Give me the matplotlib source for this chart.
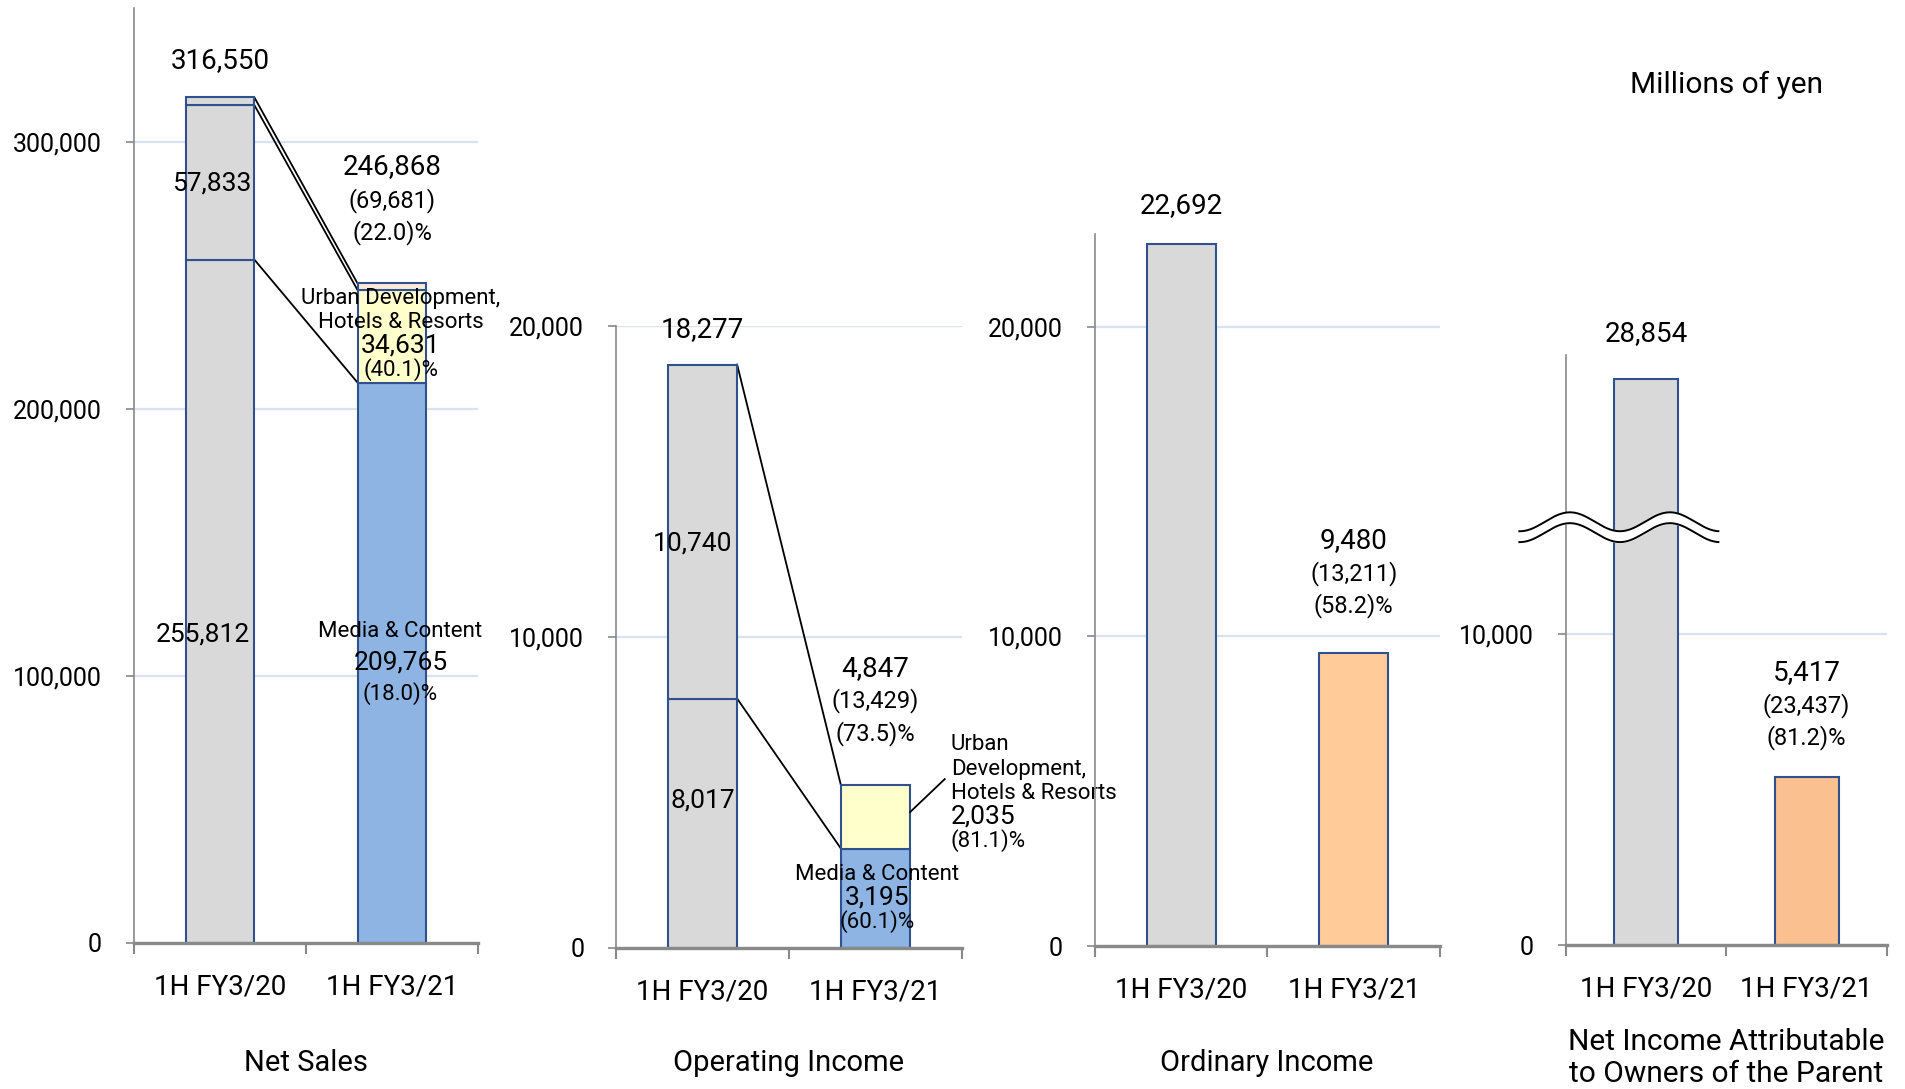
import numpy as np
import matplotlib.pyplot as plt
from matplotlib.ticker import FuncFormatter

plt.rcParams['font.family'] = ['Roboto', 'DejaVu Sans']

# Millions of yen
periods = ["1H FY3/20", "1H FY3/21"]

sales_media = [255812, 209765]
sales_urban = [57833, 34631]
sales_other = [2905, 2472]
sales_total = [316550, 246868]

op_media = [8017, 3195]
op_urban = [10740, 2035]
op_total = [18277, 4847]

ord_total = [22692, 9480]
net_total = [28854, 5417]

# colours
GRAY = '#D9D9D9'
BLUE = '#8EB4E3'
YELLOW = '#FFFFCC'
PEACH = '#FDE9D9'
ORANGE1 = '#FFCC99'
ORANGE2 = '#FAC090'
EDGE = '#2F528F'
AXC = '#898989'
GRID = '#D9E2F0'

W = 0.4
x = np.arange(len(periods))

fig = plt.figure(figsize=(19.05, 10.89), dpi=100)


def style_axis(ax, ymax, yticks):
    ax.patch.set_visible(False)
    ax.set_xlim(-0.5, 1.5)
    ax.set_ylim(0, ymax)
    ax.set_yticks(yticks)
    ax.yaxis.set_major_formatter(FuncFormatter(lambda v, p: f"{v:,.0f}"))
    ax.set_xticks(x)
    ax.set_xticklabels(periods, fontsize=20)
    ax.set_xticks([-0.5, 0.5, 1.5], minor=True)
    ax.tick_params(axis='x', which='major', length=0, pad=22)
    ax.tick_params(axis='x', which='minor', length=8, width=1.5, color=AXC)
    ax.tick_params(axis='y', length=6, width=1.2, color=AXC, pad=17, labelsize=18)
    for s in ['top', 'right']:
        ax.spines[s].set_visible(False)
    ax.spines['left'].set_color(AXC)
    ax.spines['left'].set_linewidth(1.2)
    ax.spines['bottom'].set_color(AXC)
    ax.spines['bottom'].set_linewidth(2.4)
    ax.grid(axis='y', color=GRID, lw=1.6)
    ax.set_axisbelow(True)


def series_line(ax, y0, y1):
    ax.plot([W / 2, 1 - W / 2], [y0, y1], color='black', lw=1.3, zorder=1.5)


# ---------------- Net Sales ----------------
ax1 = fig.add_axes([0.0703, 0.1341, 0.1806, 0.8586])
style_axis(ax1, 350000, [0, 100000, 200000, 300000])
ax1.bar(x, sales_media, W, color=[GRAY, BLUE], edgecolor=EDGE, lw=1.5, zorder=2)
ax1.bar(x, sales_urban, W, bottom=sales_media, color=[GRAY, YELLOW], edgecolor=EDGE, lw=1.5, zorder=2)
bottom_other = np.add(sales_media, sales_urban)
ax1.bar(x, sales_other, W, bottom=bottom_other, color=[GRAY, PEACH], edgecolor=EDGE, lw=1.5, zorder=2)
for lvl in [np.array(sales_media), bottom_other, bottom_other + np.array(sales_other)]:
    series_line(ax1, lvl[0], lvl[1])

ax1.text(0, 330300, f"{sales_total[0]:,}", ha='center', va='center', fontsize=20)
ax1.text(-0.05, 284200, f"{sales_urban[0]:,}", ha='center', va='center', fontsize=19)
ax1.text(-0.10, 115600, f"{sales_media[0]:,}", ha='center', va='center', fontsize=19)
ax1.text(1, 290600, f"{sales_total[1]:,}", ha='center', va='center', fontsize=20)
ax1.text(1, 277900, "(69,681)", ha='center', va='center', fontsize=17)
ax1.text(1, 265900, "(22.0)%", ha='center', va='center', fontsize=17)
ax1.text(1.05, 241200, "Urban Development,", ha='center', va='center', fontsize=16)
ax1.text(1.05, 232300, "Hotels & Resorts", ha='center', va='center', fontsize=16)
ax1.text(1.05, 223700, f"{sales_urban[1]:,}", ha='center', va='center', fontsize=19)
ax1.text(1.05, 214700, "(40.1)%", ha='center', va='center', fontsize=16)
ax1.text(1.05, 116700, "Media & Content", ha='center', va='center', fontsize=16)
ax1.text(1.05, 105100, f"{sales_media[1]:,}", ha='center', va='center', fontsize=19)
ax1.text(1.05, 93500, "(18.0)%", ha='center', va='center', fontsize=16)

# ---------------- Operating Income ----------------
ax2 = fig.add_axes([0.3234, 0.1295, 0.1816, 0.5712])
style_axis(ax2, 20000, [0, 10000, 20000])
ax2.bar(x, op_media, W, color=[GRAY, BLUE], edgecolor=EDGE, lw=1.5, zorder=2)
ax2.bar(x, op_urban, W, bottom=op_media, color=[GRAY, YELLOW], edgecolor=EDGE, lw=1.5, zorder=2)
op_top = np.add(op_media, op_urban)
series_line(ax2, op_media[0], op_media[1])
series_line(ax2, op_top[0], op_top[1])
ax2.plot([1 + W / 2, 1.40], [4370, 5430], color='black', lw=1.3, clip_on=False)

ax2.text(0, 19900, f"{op_total[0]:,}", ha='center', va='center', fontsize=20)
ax2.text(-0.06, 13020, f"{op_urban[0]:,}", ha='center', va='center', fontsize=19)
ax2.text(0, 4730, f"{op_media[0]:,}", ha='center', va='center', fontsize=19)
ax2.text(1, 9000, f"{op_total[1]:,}", ha='center', va='center', fontsize=20)
ax2.text(1, 7940, "(13,429)", ha='center', va='center', fontsize=17)
ax2.text(1, 6880, "(73.5)%", ha='center', va='center', fontsize=17)
ax2.text(1.436, 6530, "Urban", ha='left', va='center', fontsize=16)
ax2.text(1.436, 5750, "Development,", ha='left', va='center', fontsize=16)
ax2.text(1.436, 4980, "Hotels & Resorts", ha='left', va='center', fontsize=16)
ax2.text(1.436, 4240, f"{op_urban[1]:,}", ha='left', va='center', fontsize=19)
ax2.text(1.436, 3440, "(81.1)%", ha='left', va='center', fontsize=16)
ax2.text(1.01, 2350, "Media & Content", ha='center', va='center', fontsize=16)
ax2.text(1.01, 1610, f"{op_media[1]:,}", ha='center', va='center', fontsize=19)
ax2.text(1.01, 840, "(60.1)%", ha='center', va='center', fontsize=16)

# ---------------- Ordinary Income ----------------
ax3 = fig.add_axes([0.5748, 0.1313, 0.1811, 0.6538])
style_axis(ax3, 23000, [0, 10000, 20000])
ax3.bar(x, ord_total, W, color=[GRAY, ORANGE1], edgecolor=EDGE, lw=1.5, zorder=2)
ax3.text(0, 23920, f"{ord_total[0]:,}", ha='center', va='center', fontsize=20)
ax3.text(1, 13090, f"{ord_total[1]:,}", ha='center', va='center', fontsize=20)
ax3.text(1, 12020, "(13,211)", ha='center', va='center', fontsize=17)
ax3.text(1, 11000, "(58.2)%", ha='center', va='center', fontsize=17)

# ---------------- Net Income ----------------
ax4 = fig.add_axes([0.8220, 0.1322, 0.1685, 0.5418])
style_axis(ax4, 19000, [0, 10000])
break_cap = 18230  # bar 1 drawn cut off, axis broken
ax4.bar(x, np.minimum(net_total, break_cap), W, color=[GRAY, ORANGE2], edgecolor=EDGE, lw=1.5, zorder=2)

# wavy break mark
wx = np.linspace(-0.79, 0.45, 200)
wave = 305 * np.cos(2 * np.pi * (wx + 0.475) / 0.623)
top_curve = 13630 + wave
bot_curve = 13280 + wave
ax4.fill_between(wx, bot_curve, top_curve, color='white', zorder=4, clip_on=False)
ax4.plot(wx, top_curve, color='black', lw=1.4, zorder=5, clip_on=False)
ax4.plot(wx, bot_curve, color='black', lw=1.4, zorder=5, clip_on=False)

ax4.text(0, 19680, f"{net_total[0]:,}", ha='center', va='center', fontsize=20)
ax4.text(1, 8780, f"{net_total[1]:,}", ha='center', va='center', fontsize=20)
ax4.text(1, 7720, "(23,437)", ha='center', va='center', fontsize=17)
ax4.text(1, 6690, "(81.2)%", ha='center', va='center', fontsize=17)

# panel titles
fig.text(306 / 1905, 1 - 1063 / 1089, "Net Sales", ha='center', va='center', fontsize=21)
fig.text(789 / 1905, 1 - 1063 / 1089, "Operating Income", ha='center', va='center', fontsize=21)
fig.text(1267 / 1905, 1 - 1063 / 1089, "Ordinary Income", ha='center', va='center', fontsize=21)
fig.text(1726 / 1905, 1 - 1058 / 1089, "Net Income Attributable\nto Owners of the Parent",
         ha='center', va='center', fontsize=21.5, linespacing=1.22)
fig.text(1726 / 1905, 1 - 85 / 1089, "Millions of yen", ha='center', va='center', fontsize=21.5)

fig.savefig("out.png", dpi=100)
